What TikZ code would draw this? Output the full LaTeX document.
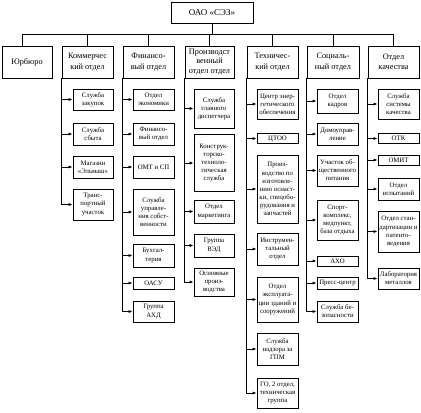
\documentclass[tikz,border=0pt]{standalone}
\usepackage{fontspec}
\setmainfont{Liberation Serif}
\usetikzlibrary{arrows.meta}

\begin{document}
\begin{tikzpicture}[x=1bp, y=-1bp, >={Latex[length=4bp,width=3.2bp]}, line width=0.8bp,
    head/.style={draw, align=center, inner sep=1bp, minimum width=82bp, minimum height=21bp, font=\fontsize{9}{10}\selectfont},
    dept/.style={draw, align=center, inner sep=0.5bp, minimum width=51bp, minimum height=32bp, font=\fontsize{8.3}{10.5}\selectfont},
    unit/.style={draw, align=center, inner sep=1bp, minimum width=41bp, font=\fontsize{6.8}{8.1}\selectfont}]
    \useasboundingbox (0,0) rectangle (421,413);

    \path (212,12.5) node[head] (oao) {ОАО «СЭЗ»};

    % departments
    \path (27,62) node[dept, minimum width=50bp] (jur) {Юрбюро};
    \path (87.5,62) node[dept] (kom) {Коммерчес\\кий отдел};
    \path (148.5,62) node[dept] (fin) {Финансо-\\вый отдел};
    \path (209.5,62) node[dept, minimum width=49bp, inner sep=0bp, font=\fontsize{8.3}{9.6}\selectfont] (pro) {Производст\\венный\\отдел отдел};
    \path (272.5,62) node[dept] (teh) {Техничес-\\кий отдел};
    \path (333,62) node[dept, minimum width=52bp] (soc) {Социаль-\\ный отдел};
    \path (393.5,62) node[dept] (kach) {Отдел\\качества};

    \draw (oao.south) -- ++(0,11) -| ([xshift=-5bp]jur.north);
    \foreach \d in {kom,fin,pro,teh,soc,kach}
        \draw (oao.south) -- ++(0,11) -| (\d.north);

    % commercial
    \path (93,99.5) node[unit, minimum width=40bp, minimum height=21bp] (k1) {Служба\\закупок};
    \path (93,134) node[unit, minimum width=40bp, minimum height=22bp] (k2) {Служба\\сбыта};
    \path (93,167) node[unit, minimum width=40bp, minimum height=22bp] (k3) {Магазин\\«Эльмаш»};
    \path (93,204.5) node[unit, minimum width=40bp, minimum height=31bp] (k4) {Транс-\\портный\\участок};

    % finance
    \path (153.5,99.5) node[unit, minimum height=21bp] (f1) {Отдел\\экономики};
    \path (153.5,134) node[unit, minimum height=22bp] (f2) {Финансо-\\вый отдел};
    \path (153.5,167) node[unit, minimum height=22bp] (f3) {ОМТ и СП};
    \path (153.5,212) node[unit, minimum height=46bp] (f4) {Служба\\управле-\\ния собст-\\венности};
    \path (153.5,255.5) node[unit, minimum height=23bp] (f5) {Бухгал-\\терия};
    \path (153.5,283) node[unit, minimum height=12bp] (f6) {ОАСУ};
    \path (153.5,311.5) node[unit, minimum height=21bp] (f7) {Группа\\АХД};

    % production
    \path (214,108.5) node[unit, minimum width=40bp, minimum height=39bp] (p1) {Служба\\главного\\диспетчера};
    \path (214,163) node[unit, minimum width=40bp, minimum height=57bp] (p2) {Конструк-\\торско-\\техноло-\\гическая\\служба};
    \path (214,211.5) node[unit, minimum width=40bp, minimum height=23bp] (p3) {Отдел\\маркетинга};
    \path (214,245.5) node[unit, minimum width=40bp, minimum height=23bp] (p4) {Группа\\ВЭД};
    \path (214,282) node[unit, minimum width=40bp, minimum height=28bp] (p5) {Основные\\произ-\\водства};

    % technical
    \path (277.5,104) node[unit, minimum height=30bp] (t1) {Центр энер-\\гетического\\обеспечения};
    \path (277.5,138.5) node[unit, minimum height=10bp] (t2) {ЦТОО};
    \path (277.5,189) node[unit, minimum height=68bp] (t3) {Произ-\\водство по\\изготовле-\\нию оснаст-\\ки, спецобо-\\рудования и\\запчастей};
    \path (277.5,249) node[unit, minimum height=32bp] (t4) {Инструмен-\\тальный\\отдел};
    \path (277.5,299.5) node[unit, minimum height=45bp] (t5) {Отдел\\эксплуата-\\ции зданий и\\сооружений};
    \path (277.5,349) node[unit, minimum height=32bp] (t6) {Служба\\надзора за\\ГПМ};
    \path (277.5,393) node[unit, minimum height=30bp] (t7) {ГО, 2 отдел,\\техническая\\группа};

    % social
    \path (337.5,101) node[unit, minimum height=24bp] (s1) {Отдел\\кадров};
    \path (337.5,134) node[unit, minimum height=22bp] (s2) {Домоуправ-\\ление};
    \path (337.5,170.5) node[unit, minimum height=31bp] (s3) {Участок об-\\щественного\\питания};
    \path (337.5,220) node[unit, minimum height=40bp] (s4) {Спорт-\\комплекс,\\медпункт,\\база отдыха};
    \path (337.5,261) node[unit, minimum height=10bp] (s5) {АХО};
    \path (337.5,283) node[unit, minimum height=12bp] (s6) {Пресс-центр};
    \path (337.5,311.5) node[unit, minimum height=21bp] (s7) {Служба бе-\\зопасности};

    % quality
    \path (398.5,104) node[unit, minimum height=30bp] (q1) {Служба\\системы\\качества};
    \path (398.5,138.5) node[unit, minimum height=10bp] (q2) {ОТК};
    \path (398.5,160) node[unit, minimum height=10bp] (q3) {ОМИТ};
    \path (398.5,189) node[unit, minimum height=22bp] (q4) {Отдел\\испытаний};
    \path (398.5,231.5) node[unit, minimum height=41bp] (q5) {Отдел стан-\\дартизации и\\патенто-\\ведения};
    \path (398.5,278.5) node[unit, minimum height=21bp] (q6) {Лаборатория\\металлов};

    \foreach \c in {k1,k2,k3,k4} \draw[->] (kom.south west) |- (\c.west);
    \foreach \c in {f1,f2,f3,f4,f5,f6,f7} \draw[->] (fin.south west) |- (\c.west);
    \foreach \c in {p1,p2,p3,p4,p5} \draw[->] (pro.south west) |- (\c.west);
    \foreach \c in {t1,t2,t3,t4,t5,t6,t7} \draw[->] (teh.south west) |- (\c.west);
    \foreach \c in {s1,s2,s3,s4,s5,s6,s7} \draw[->] (soc.south west) |- (\c.west);
    \foreach \c in {q1,q2,q3,q4,q5,q6} \draw[->] (kach.south west) |- (\c.west);
\end{tikzpicture}
\end{document}
